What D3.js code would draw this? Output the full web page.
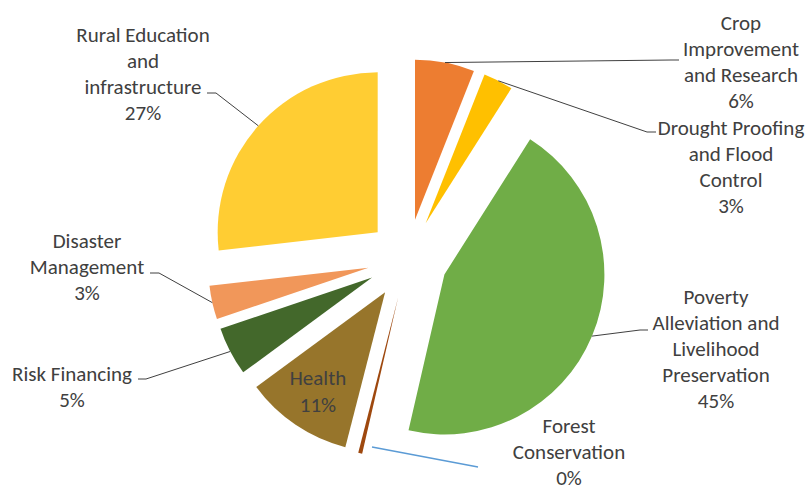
<!DOCTYPE html>
<html>
<head>
<meta charset="utf-8">
<script src="https://cdn.jsdelivr.net/npm/d3@7"></script>
<style>
  html, body { margin: 0; padding: 0; background: #ffffff; }
  svg { display: block; }
  text { font-family: Carlito, Calibri, "Liberation Sans", Arial, sans-serif; fill: #404040; }
</style>
</head>
<body>
<svg id="chart" width="809" height="487"></svg>
<script>
// ---- data ----
const categories = [
  "Crop Improvement and Research",
  "Drought Proofing and Flood Control",
  "Poverty Alleviation and Livelihood Preservation",
  "Forest Conservation",
  "Health",
  "Risk Financing",
  "Disaster Management",
  "Rural Education and infrastructure"
];
const values = [6.0, 3.0, 44.6, 0.4, 10.9, 4.9, 3.4, 26.8];
const labelLines = [
  ["Crop", "Improvement", "and Research"],
  ["Drought Proofing", "and Flood", "Control"],
  ["Poverty", "Alleviation and", "Livelihood", "Preservation"],
  ["Forest", "Conservation"],
  ["Health"],
  ["Risk Financing"],
  ["Disaster", "Management"],
  ["Rural Education", "and", "infrastructure"]
];
const colors = ["#ED7D31", "#FFC000", "#70AD47", "#9E480E", "#97752B", "#43682B", "#F1975A", "#FFCD33"];

// ---- layout ----
const cx = 407.5, cy = 259, R = 160, explode = 40;
const lineGap = 26;
const fontSize = 21;
// label block: x center, first-line center y, leader end (ex,ey), elbow length (signed), inside flag
const labelLayout = [
  { x: 741, y: 23,    ex: 679, ey: 60,  elbow: -8 },
  { x: 731, y: 128,   ex: 656, ey: 132, elbow: -9 },
  { x: 716, y: 297.5, ex: 648, ey: 330, elbow: -8 },
  { x: 569, y: 426.5, leader: [[372, 447], [478, 467]], leaderColor: "#5B9BD5" },
  { inside: true, r: 120 },
  { x: 72,  y: 374,   ex: 138, ey: 379, elbow: 8 },
  { x: 87,  y: 241,   ex: 150, ey: 273, elbow: 9 },
  { x: 143, y: 35,    ex: 207, ey: 93,  elbow: 9 }
];

const svg = d3.select("#chart");
const total = d3.sum(values);
const pie = d3.pie().sort(null).value(d => d)(values);
const arc = d3.arc().innerRadius(0).outerRadius(R);

const dir = a => [Math.sin(a), -Math.cos(a)];

const g = svg.append("g").attr("transform", `translate(${cx},${cy})`);

pie.forEach((p, i) => {
  const mid = (p.startAngle + p.endAngle) / 2;
  const [ux, uy] = dir(mid);
  g.append("path")
    .attr("d", arc(p))
    .attr("transform", `translate(${ux * explode},${uy * explode})`)
    .attr("fill", colors[i]);
});

// leader lines
pie.forEach((p, i) => {
  const L = labelLayout[i];
  if (L.inside) return;
  const mid = (p.startAngle + p.endAngle) / 2;
  const [ux, uy] = dir(mid);
  let pts;
  let col = "#404040";
  if (L.leader) {
    pts = L.leader;
    col = L.leaderColor;
  } else {
    const sx = cx + ux * (explode + R), sy = cy + uy * (explode + R);
    pts = [[sx, sy], [L.ex + L.elbow, L.ey], [L.ex, L.ey]];
  }
  svg.append("path")
    .attr("d", d3.line()(pts))
    .attr("fill", "none")
    .attr("stroke", col)
    .attr("stroke-width", L.leader ? 1.4 : 1);
});

// labels
pie.forEach((p, i) => {
  const L = labelLayout[i];
  const pct = Math.round(values[i] / total * 100) + "%";
  const lines = labelLines[i].concat([pct]);
  let x, y0;
  if (L.inside) {
    const mid = (p.startAngle + p.endAngle) / 2;
    const [ux, uy] = dir(mid);
    x = cx + ux * (explode + L.r);
    const yc = cy + uy * (explode + L.r);
    y0 = yc - (lines.length - 1) * 26.5 / 2;
  } else {
    x = L.x; y0 = L.y;
  }
  const t = svg.append("text")
    .attr("text-anchor", "middle")
    .attr("font-size", fontSize);
  lines.forEach((s, k) => {
    t.append("tspan")
      .attr("x", x)
      .attr("y", y0 + k * (L.inside ? 26.5 : lineGap))
      .attr("dy", "0.33em")
      .text(s);
  });
});
</script>
</body>
</html>
